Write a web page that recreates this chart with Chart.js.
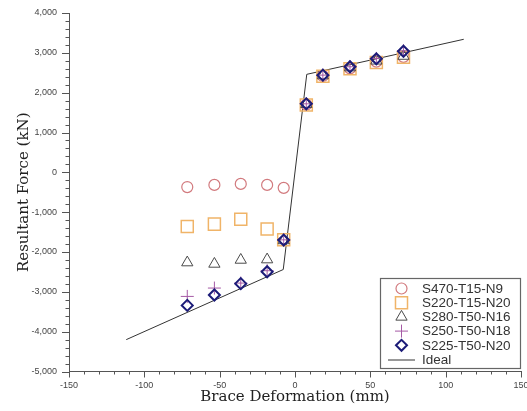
<!DOCTYPE html>
<html>
<head>
<meta charset="utf-8">
<script src="https://cdn.jsdelivr.net/npm/chart.js@4/dist/chart.umd.min.js"></script>
<style>
  html, body { margin: 0; padding: 0; background: #fff; }
  #wrap { width: 527px; height: 411px; }
</style>
</head>
<body>
<div id="wrap"><canvas id="chart" width="527" height="411"></canvas></div>
<script>
// Brace deformation (mm) at each measured step
const deformation = [-71.5, -53.5, -36, -18.5, -7.5, 7.5, 18.5, 36.5, 54, 72];

// Resultant force (kN) per specimen
const s470_t15_n9  = [-370, -315, -290, -315, -390, 1700, 2420, 2610, 2780, 2900];
const s220_t15_n20 = [-1360, -1300, -1175, -1425, -1695, 1690, 2410, 2600, 2760, 2890];
const s280_t50_n16 = [-2265, -2300, -2200, -2190, -1710, 1710, 2430, 2630, 2800, 2920];
const s250_t50_n18 = [-3115, -2905, -2780, -2470, -1695, 1720, 2440, 2650, 2860, 3050];
const s225_t50_n20 = [-3340, -3080, -2795, -2495, -1700, 1720, 2440, 2650, 2850, 3040];

// Idealised tri-linear response
const idealDeformation = [-112, -7.8, 7.8, 112];
const idealForce = [-4200, -2440, 2460, 3340];

const seriesLabels = ['S470-T15-N9', 'S220-T15-N20', 'S280-T50-N16', 'S250-T50-N18', 'S225-T50-N20', 'Ideal'];

// Axis ranges and tick spacing
const xTicks = [-150, -100, -50, 0, 50, 100, 150];
const yTicks = [-5000, -4000, -3000, -2000, -1000, 0, 1000, 2000, 3000, 4000];
const xMinorStep = 10;
const yMinorStep = 200;

const AXIS_COLOR = '#555';
const TEXT_COLOR = '#222';

function pts(xs, ys) { return xs.map((x, i) => ({ x, y: ys[i] })); }

function markerSet(label, values, style, color, radius, width, order) {
  return {
    label, data: pts(deformation, values), showLine: false,
    pointStyle: style, pointRadius: radius, pointHoverRadius: radius,
    pointBorderColor: color, pointBackgroundColor: 'rgba(0,0,0,0)',
    pointBorderWidth: width, borderColor: color, backgroundColor: 'rgba(0,0,0,0)',
    order
  };
}

const datasets = [
  markerSet(seriesLabels[0], s470_t15_n9, 'circle', '#d27a7e', 5.5, 1.2, 5),
  markerSet(seriesLabels[1], s220_t15_n20, 'rect', '#f0b468', 8.5, 1.5, 4),
  markerSet(seriesLabels[2], s280_t50_n16, 'triangle', '#4a4a4a', 6.5, 1, 3),
  markerSet(seriesLabels[3], s250_t50_n18, 'cross', '#a55aa5', 6.5, 1, 2),
  markerSet(seriesLabels[4], s225_t50_n20, 'rectRot', '#1c1c78', 5.5, 2, 1),
  {
    label: seriesLabels[5], data: pts(idealDeformation, idealForce), showLine: true,
    borderColor: '#333', borderWidth: 1, pointRadius: 0, pointHoverRadius: 0,
    pointStyle: 'line', fill: false, order: 6
  }
];

// Outward tick marks: long at labelled values, short in between
const tickMarks = {
  id: 'tickMarks',
  afterDraw(chart) {
    const { ctx, chartArea } = chart;
    const xs = chart.scales.x, ys = chart.scales.y;
    ctx.save();
    ctx.strokeStyle = AXIS_COLOR;
    ctx.lineWidth = 1;
    ctx.beginPath();
    for (let v = xs.min; v <= xs.max + 1e-9; v += xMinorStep) {
      const px = Math.round(xs.getPixelForValue(v)) + 0.5;
      const len = Math.abs(v % 50) < 1e-9 ? 6 : 3;
      ctx.moveTo(px, chartArea.bottom);
      ctx.lineTo(px, chartArea.bottom + len);
    }
    for (let v = ys.min; v <= ys.max + 1e-9; v += yMinorStep) {
      const py = Math.round(ys.getPixelForValue(v)) + 0.5;
      const len = Math.abs(v % 1000) < 1e-9 ? 7 : 3.5;
      ctx.moveTo(chartArea.left, py);
      ctx.lineTo(chartArea.left - len, py);
    }
    ctx.stroke();
    ctx.restore();
  }
};

// Boxed legend in the lower-right corner of the plot
const boxedLegend = {
  id: 'boxedLegend',
  afterDraw(chart) {
    const { ctx, chartArea } = chart;
    const w = 141, h = 91;
    const right = chartArea.right, bottom = chartArea.bottom - 2.5;
    const left = right - w, top = bottom - h;
    ctx.save();
    ctx.fillStyle = '#fff';
    ctx.fillRect(left, top, w, h);
    ctx.strokeStyle = '#666';
    ctx.lineWidth = 1.2;
    ctx.strokeRect(left + 0.5, top + 0.5, w - 1, h - 1);
    ctx.font = '13.5px "Liberation Sans", Arial, sans-serif';
    ctx.textBaseline = 'middle';
    ctx.textAlign = 'left';
    const rowH = 14.2;
    chart.data.datasets.forEach((ds, i) => {
      const cy = top + 10.5 + i * rowH;
      const cx = left + 21.5;
      if (ds.showLine) {
        ctx.strokeStyle = ds.borderColor;
        ctx.lineWidth = ds.borderWidth;
        ctx.beginPath();
        ctx.moveTo(left + 8, cy + 0.5);
        ctx.lineTo(left + 35, cy + 0.5);
        ctx.stroke();
      } else {
        ctx.strokeStyle = ds.pointBorderColor;
        ctx.fillStyle = 'rgba(0,0,0,0)';
        ctx.lineWidth = ds.pointBorderWidth;
        Chart.helpers.drawPoint(ctx, {
          pointStyle: ds.pointStyle, rotation: 0,
          radius: ds.pointRadius, borderWidth: ds.pointBorderWidth
        }, cx, cy);
      }
      ctx.fillStyle = '#333';
      ctx.fillText(ds.label, left + 42, cy + 0.5);
    });
    ctx.restore();
  }
};

// Let the outer tick labels run past the plot edges instead of shrinking it
function noLabelPadding(s) {
  s.paddingLeft = 0; s.paddingRight = 0; s.paddingTop = 0; s.paddingBottom = 0;
  if (s._margins) { s._margins.left = 0; s._margins.right = 0; s._margins.top = 0; s._margins.bottom = 0; }
}

new Chart(document.getElementById('chart'), {
  type: 'scatter',
  data: { datasets },
  options: {
    responsive: false,
    animation: false,
    locale: 'en-US',
    layout: { autoPadding: false, padding: { top: 13, right: 6, left: 0, bottom: 0 } },
    plugins: { legend: { display: false }, tooltip: { enabled: false } },
    scales: {
      x: {
        type: 'linear', min: xTicks[0], max: xTicks[xTicks.length - 1],
        afterBuildTicks: s => { s.ticks = xTicks.map(v => ({ value: v })); },
        afterFit: s => { s.height = 39.5; noLabelPadding(s); },
        grid: { display: false, drawTicks: false },
        border: { display: true, color: AXIS_COLOR, width: 1 },
        ticks: {
          padding: 9, color: '#444', maxRotation: 0,
          font: { family: '"Liberation Sans", Arial, sans-serif', size: 9 },
          callback: v => String(v)
        },
        title: {
          display: true, text: 'Brace Deformation (mm)', color: TEXT_COLOR,
          font: { family: '"DejaVu Serif", serif', size: 15 },
          padding: { top: 0, bottom: 5 }
        }
      },
      y: {
        type: 'linear', min: yTicks[0], max: yTicks[yTicks.length - 1],
        afterBuildTicks: s => { s.ticks = yTicks.map(v => ({ value: v })); },
        afterFit: s => { s.width = 69; noLabelPadding(s); },
        grid: { display: false, drawTicks: false },
        border: { display: true, color: AXIS_COLOR, width: 1 },
        ticks: {
          padding: 12, color: '#444',
          font: { family: '"Liberation Sans", Arial, sans-serif', size: 9 },
          callback: v => v.toLocaleString('en-US')
        },
        title: {
          display: true, text: 'Resultant Force (kN)', color: TEXT_COLOR,
          font: { family: '"DejaVu Serif", serif', size: 15 },
          padding: { top: 15, bottom: 0 }
        }
      }
    }
  },
  plugins: [tickMarks, boxedLegend]
});
</script>
</body>
</html>
